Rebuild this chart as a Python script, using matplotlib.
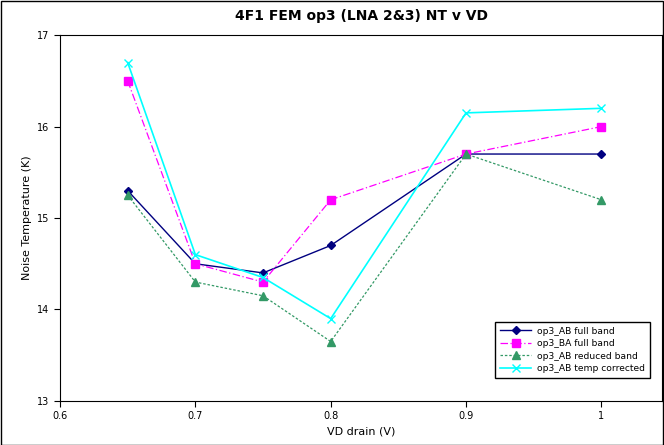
import matplotlib.pyplot as plt
import numpy as np

vd = [0.65, 0.7, 0.75, 0.8, 0.9, 1.0]
ab_full = [15.3, 14.5, 14.4, 14.7, 15.7, 15.7]
ba_full = [16.5, 14.5, 14.3, 15.2, 15.7, 16.0]
ab_reduced = [15.25, 14.3, 14.15, 13.65, 15.7, 15.2]
ab_temp = [16.7, 14.6, 14.35, 13.9, 16.15, 16.2]

fig = plt.figure(figsize=(6.64, 4.45), dpi=100)
ax = fig.add_axes([0.0904, 0.099, 0.907, 0.822])

ax.plot(vd, ab_full, color='#000080', marker='D', markersize=4, lw=1, label='op3_AB full band')
ax.plot(vd, ba_full, color='#ff00ff', marker='s', markersize=5.5, lw=0.9, ls=(0, (6, 2, 1, 2)), label='op3_BA full band')
ax.plot(vd, ab_reduced, color='#339966', marker='^', markersize=5.5, lw=0.9, ls=(0, (2, 1.5)), label='op3_AB reduced band')
ax.plot(vd, ab_temp, color='#00ffff', marker='x', markersize=6, lw=1.2, label='op3_AB temp corrected')

ax.set_xlim(0.6, 1.045)
ax.set_ylim(13, 17)
ax.set_xticks([0.6, 0.7, 0.8, 0.9, 1.0])
ax.set_xticklabels(['0.6', '0.7', '0.8', '0.9', '1'])
ax.set_yticks([13, 14, 15, 16, 17])
ax.tick_params(labelsize=7, direction='out', length=4)
ax.set_xlabel('VD drain (V)', fontsize=8)
ax.set_ylabel('Noise Temperature (K)', fontsize=8)
ax.set_title('4F1 FEM op3 (LNA 2&3) NT v VD', fontsize=10, fontweight='bold', pad=11)

leg = ax.legend(loc='lower right', bbox_to_anchor=(0.987, 0.05), fontsize=6.6, frameon=True,
                fancybox=False, edgecolor='black', framealpha=1, borderpad=0.55,
                handlelength=3.4, labelspacing=0.38, handletextpad=0.6)
leg.get_frame().set_linewidth(1)

fig.patches.append(plt.Rectangle((0.001, 0.001), 0.998, 0.996, transform=fig.transFigure,
                                 fill=False, edgecolor='black', lw=1))

plt.savefig('out.png')
